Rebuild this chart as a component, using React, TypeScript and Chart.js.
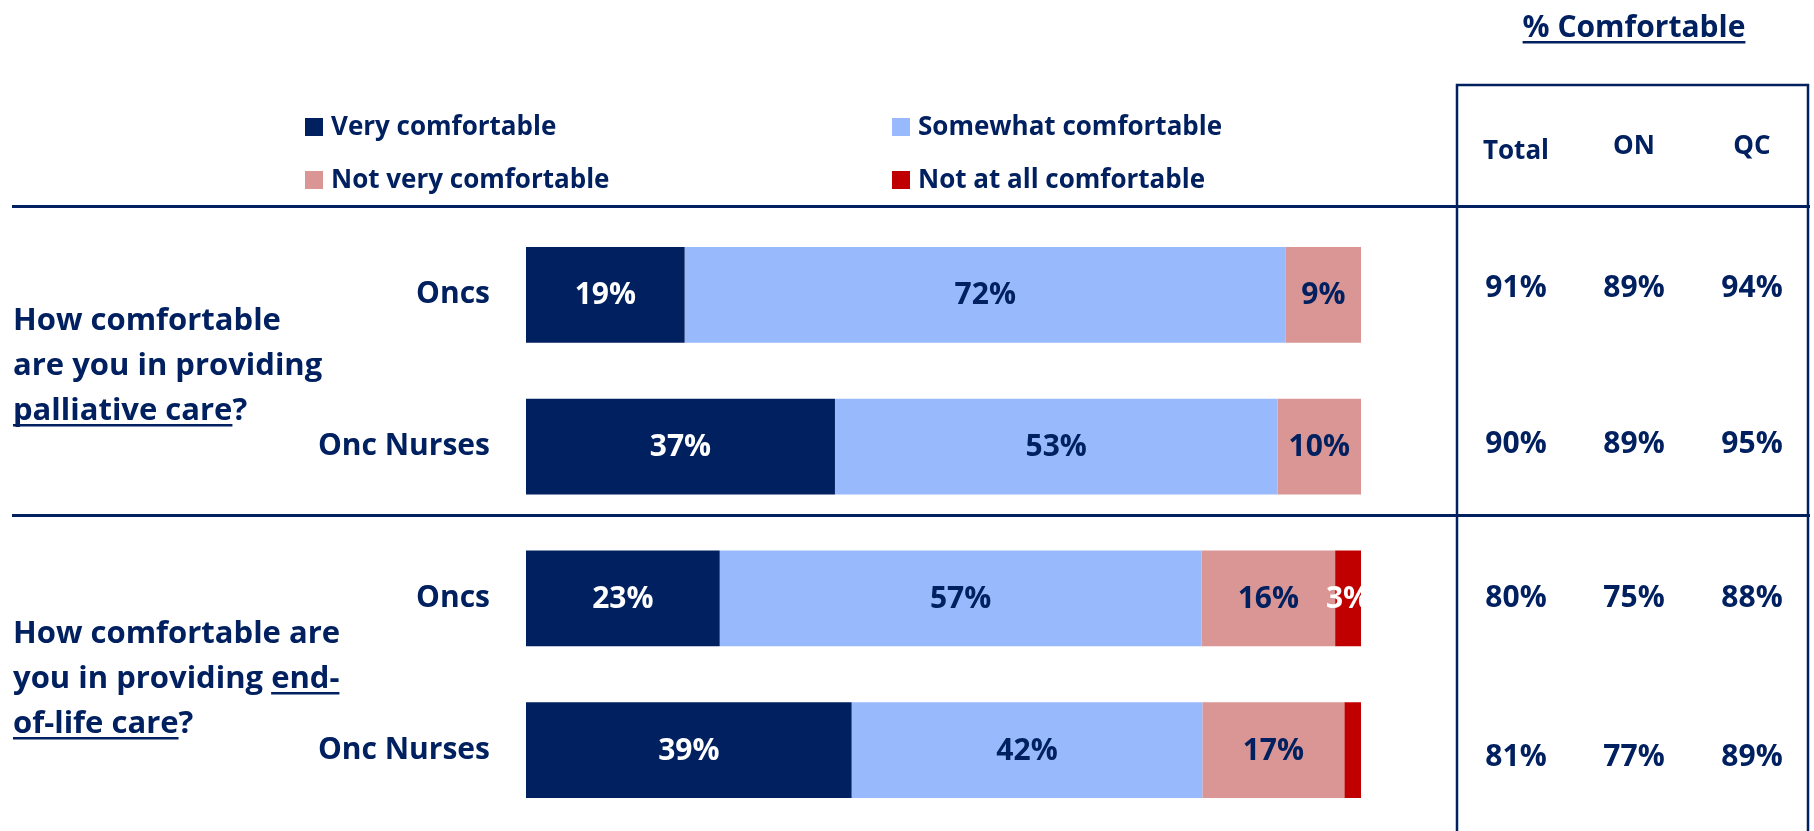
import React, { useEffect, useRef } from "react";
import { Chart, registerables } from "chart.js";

Chart.register(...registerables);

// ---------- data ----------
const groups = ["Oncs", "Onc Nurses", "Oncs", "Onc Nurses"];
const seriesNames = [
  "Very comfortable",
  "Somewhat comfortable",
  "Not very comfortable",
  "Not at all comfortable",
];
const veryComfortable = [19, 37, 23.2, 39];
const somewhatComfortable = [72, 53, 57.7, 42];
const notVeryComfortable = [9, 10, 16, 17];
const notAtAllComfortable = [0, 0, 3.1, 2];

const veryLabels = ["19%", "37%", "23%", "39%"];
const somewhatLabels = ["72%", "53%", "57%", "42%"];
const notVeryLabels = ["9%", "10%", "16%", "17%"];
const notAtAllLabels = ["", "", "3%", ""];

const tableHeaders = ["Total", "ON", "QC"];
const totalComfortable = [91, 90, 80, 81];
const onComfortable = [89, 89, 75, 77];
const qcComfortable = [94, 95, 88, 89];

const question1 = [
  [["How comfortable", false]],
  [["are you in providing", false]],
  [["palliative care", true], ["?", false]],
];
const question2 = [
  [["How comfortable are", false]],
  [["you in providing ", false], ["end-", true]],
  [["of-life care", true], ["?", false]],
];

// ---------- style ----------
const NAVY = "#002060";
const LIGHT = "#98B9FC";
const PINK = "#D99694";
const RED = "#C00000";
const FONT = '"Open Sans", "DejaVu Sans", sans-serif';
const f = (s: number) => `bold ${s}px ${FONT}`;

const barLabelSets = [veryLabels, somewhatLabels, notVeryLabels, notAtAllLabels];
const barLabelColors = ["#FFFFFF", NAVY, NAVY, "#FFFFFF"];

const labelPlugin = {
  id: "barLabels",
  afterDatasetsDraw(chart: any) {
    const ctx = chart.ctx;
    const area = chart.chartArea;
    ctx.save();
    ctx.beginPath();
    ctx.rect(area.left, area.top, area.right - area.left, area.bottom - area.top);
    ctx.clip();
    ctx.font = f(30);
    ctx.textAlign = "center";
    ctx.textBaseline = "middle";
    chart.data.datasets.forEach((ds: any, di: number) => {
      const meta = chart.getDatasetMeta(di);
      meta.data.forEach((el: any, i: number) => {
        const txt = barLabelSets[di][i];
        if (!txt) return;
        const cx = (el.x + el.base) / 2;
        ctx.fillStyle = barLabelColors[di];
        ctx.fillText(txt, cx, el.y + 1);
      });
    });
    ctx.restore();
  },
};

function drawRuns(ctx: any, runs: any[], x: number, y: number) {
  let cx = x;
  runs.forEach(([t, u]: [string, boolean]) => {
    ctx.fillText(t, cx, y);
    const w = ctx.measureText(t).width;
    if (u) ctx.fillRect(cx, y + 4, w, 2.5);
    cx += w;
  });
}

const decorPlugin = {
  id: "decor",
  afterDraw(chart: any) {
    const ctx = chart.ctx;
    ctx.save();
    ctx.strokeStyle = NAVY;
    ctx.fillStyle = NAVY;
    ctx.lineWidth = 3;
    // separators
    ctx.beginPath();
    ctx.moveTo(12, 206.5);
    ctx.lineTo(1810, 206.5);
    ctx.moveTo(12, 515.5);
    ctx.lineTo(1810, 515.5);
    ctx.stroke();
    // table box
    ctx.lineWidth = 2.5;
    ctx.beginPath();
    ctx.moveTo(1457, 840);
    ctx.lineTo(1457, 85);
    ctx.lineTo(1808, 85);
    ctx.lineTo(1808, 840);
    ctx.stroke();

    // header
    ctx.font = f(30);
    ctx.textAlign = "left";
    ctx.textBaseline = "alphabetic";
    const hdr = "% Comfortable";
    const hw = ctx.measureText(hdr).width;
    drawRuns(ctx, [[hdr, true]], 1634 - hw / 2, 37);

    // column headers
    ctx.font = f(26);
    ctx.textAlign = "center";
    ctx.textBaseline = "middle";
    const colX = [1516, 1634, 1752];
    const hdrY = [152, 147, 147];
    tableHeaders.forEach((h, i) => ctx.fillText(h, colX[i], hdrY[i]));

    // table values
    ctx.font = f(30);
    const y = chart.scales.y;
    const rowShift = [-6, -2, 0, 7];
    const cols = [totalComfortable, onComfortable, qcComfortable];
    groups.forEach((_, r) => {
      const py = y.getPixelForValue(r) + rowShift[r];
      cols.forEach((col, c) => ctx.fillText(col[r] + "%", colX[c], py));
    });

    // legend
    ctx.font = f(26);
    ctx.textAlign = "left";
    const legPos = [
      [305, 127],
      [892, 127],
      [305, 180],
      [892, 180],
    ];
    chart.data.datasets.forEach((ds: any, i: number) => {
      const [lx, ly] = legPos[i];
      ctx.fillStyle = ds.backgroundColor;
      ctx.fillRect(lx, ly - 9, 18, 18);
      ctx.fillStyle = NAVY;
      ctx.fillText(ds.label, lx + 26, ly + 1);
    });

    // questions
    ctx.font = f(31);
    ctx.textBaseline = "alphabetic";
    const q1y = [330, 375, 420];
    question1.forEach((line, i) => drawRuns(ctx, line, 13, q1y[i]));
    const q2y = [643, 688, 733];
    question2.forEach((line, i) => drawRuns(ctx, line, 13, q2y[i]));
    ctx.restore();
  },
};

export default function App() {
  const ref = useRef<HTMLCanvasElement>(null);
  useEffect(() => {
    if (!ref.current) return;
    const chart = new Chart(ref.current, {
      type: "bar",
      data: {
        labels: groups,
        datasets: [
          { label: seriesNames[0], data: veryComfortable, backgroundColor: NAVY },
          { label: seriesNames[1], data: somewhatComfortable, backgroundColor: LIGHT },
          { label: seriesNames[2], data: notVeryComfortable, backgroundColor: PINK },
          { label: seriesNames[3], data: notAtAllComfortable, backgroundColor: RED },
        ],
      },
      options: {
        indexAxis: "y",
        animation: false,
        responsive: false,
        devicePixelRatio: 1,
        datasets: {
          bar: { categoryPercentage: 1, barPercentage: 0.632, borderWidth: 0 },
        },
        layout: { padding: { left: 0, right: 453, top: 219, bottom: 5 } },
        plugins: { legend: { display: false }, tooltip: { enabled: false } },
        scales: {
          x: { stacked: true, min: 0, max: 100, display: false },
          y: {
            stacked: true,
            grid: { display: false, drawTicks: false },
            border: { display: false },
            afterFit: (s: any) => {
              s.width = 526;
              s.paddingTop = 0;
              s.paddingBottom = 0;
            },
            ticks: {
              padding: 36,
              color: NAVY,
              font: { family: FONT, size: 30, weight: "bold" },
            },
          },
        },
      },
      plugins: [labelPlugin, decorPlugin],
    } as any);
    return () => chart.destroy();
  }, []);
  return (
    <div style={{ position: "absolute", left: 0, top: 0, width: 1814, height: 831, background: "#fff" }}>
      <canvas ref={ref} width={1814} height={831} />
    </div>
  );
}
